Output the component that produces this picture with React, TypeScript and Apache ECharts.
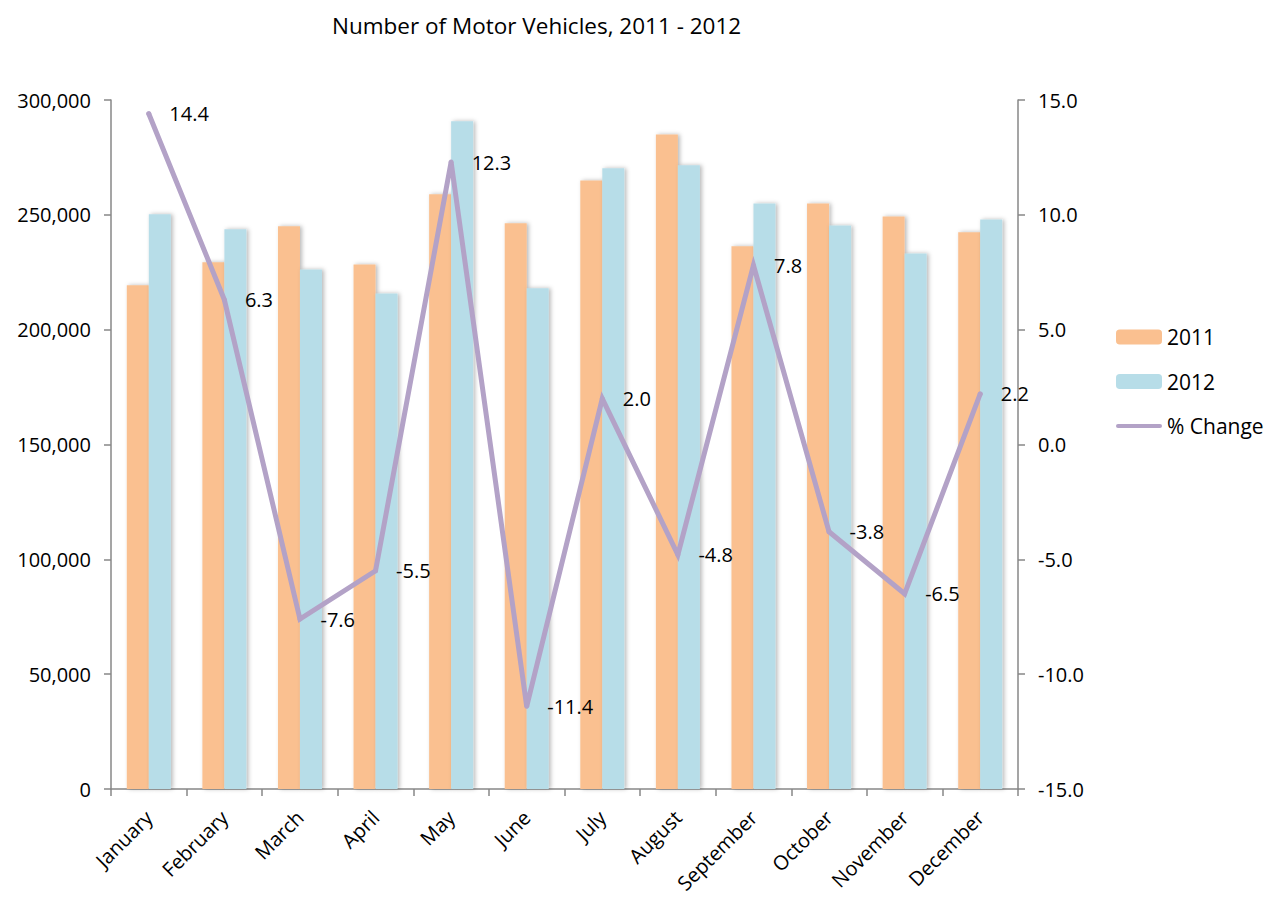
import React, { useEffect, useRef } from "react";
import * as echarts from "echarts";

const months = ["January", "February", "March", "April", "May", "June", "July", "August", "September", "October", "November", "December"];
const vehicles2011 = [219300, 229300, 245000, 228400, 259000, 246300, 265000, 285000, 236300, 254900, 249300, 242400];
const vehicles2012 = [250200, 243700, 226200, 215800, 290800, 218000, 270300, 271600, 254900, 245400, 233200, 248000];
const pctChange = [14.4, 6.3, -7.6, -5.5, 12.3, -11.4, 2.0, -4.8, 7.8, -3.8, -6.5, 2.2];

const FONT = "Open Sans";

export default function App() {
  const ref = useRef<HTMLDivElement>(null);
  useEffect(() => {
    if (!ref.current) return;
    const chart = echarts.init(ref.current, undefined, { renderer: "svg" });
    const axisColor = "#878787";
    const shadow = {
      shadowColor: "rgba(0,0,0,0.28)",
      shadowBlur: 4,
      shadowOffsetX: 2,
      shadowOffsetY: 0,
    };
    chart.setOption({
      animation: false,
      backgroundColor: "#ffffff",
      textStyle: { fontFamily: FONT },
      title: {
        text: "Number of Motor Vehicles, 2011 - 2012",
        left: 327,
        top: 9,
        textStyle: { fontFamily: FONT, fontSize: 22.5, fontWeight: "normal", color: "#000" },
      },
      legend: {
        orient: "vertical",
        left: 1111,
        top: 321,
        itemWidth: 46,
        itemHeight: 15,
        itemGap: 22.5,
        textStyle: { fontFamily: FONT, fontSize: 21, color: "#000", lineHeight: 22 },
        data: [
          { name: "2011" },
          { name: "2012" },
          { name: "% Change", icon: "path://M2,0 L44,0 A2,2 0 0 1 44,4 L2,4 A2,2 0 0 1 2,0 Z" },
        ],
      },
      grid: { left: 111, right: 266, top: 100, bottom: 109, containLabel: false, outerBoundsMode: "none" },
      xAxis: {
        type: "category",
        data: months,
        boundaryGap: true,
        axisLine: { show: true, lineStyle: { color: axisColor, width: 1.5 } },
        axisTick: { show: true, length: 7, inside: false, lineStyle: { color: axisColor, width: 1.5 } },
        axisLabel: { rotate: 45, fontSize: 20, fontFamily: FONT, color: "#000", margin: 25, interval: 0 },
        splitLine: { show: false },
      },
      yAxis: [
        {
          type: "value",
          min: 0,
          max: 300000,
          interval: 50000,
          position: "left",
          axisLine: { show: true, lineStyle: { color: axisColor, width: 1.5 } },
          axisTick: { show: true, length: 7, inside: false, lineStyle: { color: axisColor, width: 1.5 } },
          axisLabel: {
            fontSize: 20,
            fontFamily: FONT,
            color: "#000",
            margin: 20,
            formatter: (v: number) => v.toLocaleString("en-US"),
          },
          splitLine: { show: false },
        },
        {
          type: "value",
          min: -15,
          max: 15,
          interval: 5,
          position: "right",
          axisLine: { show: true, lineStyle: { color: axisColor, width: 1.5 } },
          axisTick: { show: true, length: 7, inside: false, lineStyle: { color: axisColor, width: 1.5 } },
          axisLabel: {
            fontSize: 20,
            fontFamily: FONT,
            color: "#000",
            margin: 20,
            formatter: (v: number) => v.toFixed(1),
          },
          splitLine: { show: false },
        },
      ],
      series: [
        {
          name: "2011",
          type: "bar",
          data: vehicles2011,
          barWidth: 22,
          barGap: "0%",
          itemStyle: { color: "#fac090", ...shadow },
        },
        {
          name: "2012",
          type: "bar",
          data: vehicles2012,
          barWidth: 22,
          barGap: "0%",
          itemStyle: { color: "#b7dde8", ...shadow },
        },
        {
          name: "% Change",
          type: "line",
          yAxisIndex: 1,
          data: pctChange,
          symbol: "circle",
          symbolSize: 5,
          itemStyle: { color: "#b3a2c7" },
          lineStyle: { color: "#b3a2c7", width: 5, cap: "round", join: "miter" },
          label: {
            show: true,
            position: "right",
            distance: 18,
            fontSize: 20,
            fontFamily: FONT,
            color: "#000",
            formatter: (p: any) => Number(p.value).toFixed(1),
          },
          z: 5,
        },
      ],
    });
    return () => chart.dispose();
  }, []);
  return <div ref={ref} style={{ position: "fixed", left: 0, top: 0, width: 1284, height: 898 }} />;
}
